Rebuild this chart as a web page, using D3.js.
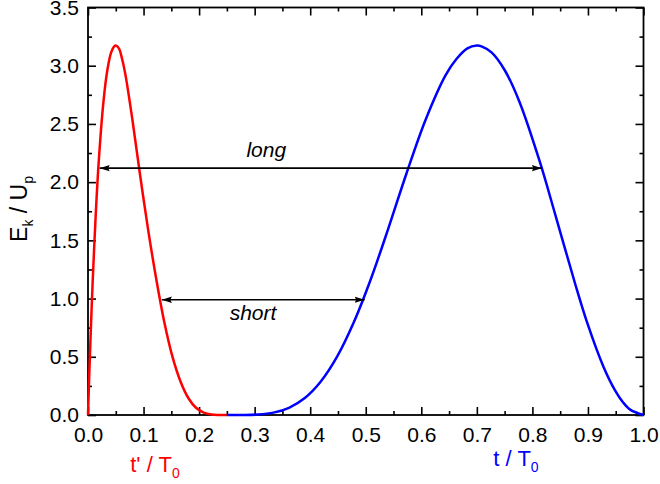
<!DOCTYPE html>
<html>
<head>
<meta charset="utf-8">
<script src="https://cdn.jsdelivr.net/npm/d3@7"></script>
<style>
  html, body { margin: 0; padding: 0; background: #fff; }
  svg { display: block; }
  text { font-family: "Liberation Sans", Arial, sans-serif; }
</style>
</head>
<body>
<svg id="chart" width="660" height="484"></svg>
<script>
// ---- data ----
// red: ionization time t'/T0 vs return energy Ek/Up
const redT = [0, 0.000278, 0.000694, 0.00139, 0.00278, 0.00556, 0.00833, 0.0139, 0.0194, 0.0278, 0.0347, 0.0417, 0.0472, 0.05, 0.0556, 0.0615, 0.0675, 0.080, 0.0935, 0.108, 0.123, 0.1375, 0.152, 0.1665, 0.1806, 0.1944, 0.2083, 0.2222, 0.2361, 0.25];
const redE = [0, 0.044, 0.108, 0.214, 0.417, 0.793, 1.136, 1.719, 2.182, 2.689, 2.959, 3.114, 3.166, 3.173, 3.149, 3.056, 2.919, 2.534, 2.070, 1.599, 1.164, 0.794, 0.501, 0.288, 0.146, 0.062, 0.0205, 0.0042, 0.0003, 0];
// blue: return time t/T0 vs return energy Ek/Up
const blueT = [0.25, 0.2778, 0.3056, 0.3338, 0.3618, 0.3903, 0.4191, 0.4484, 0.4783, 0.5089, 0.5404, 0.573, 0.6076, 0.6438, 0.6629, 0.683, 0.6998, 0.7083, 0.7264, 0.7505, 0.7768, 0.8129, 0.8413, 0.8764, 0.8986, 0.9277, 0.9485, 0.9633, 0.9767, 1.0];
const blueE = [0, 0.0003, 0.0042, 0.0205, 0.062, 0.146, 0.288, 0.501, 0.794, 1.164, 1.599, 2.070, 2.534, 2.919, 3.056, 3.149, 3.173, 3.166, 3.114, 2.959, 2.689, 2.182, 1.719, 1.136, 0.793, 0.417, 0.214, 0.108, 0.044, 0];

// annotation arrows
const arrowLabels = ["long", "short"];
const arrowE = [2.12, 0.99];
const arrowFrom = [0.021, 0.133];
const arrowTo = [0.817, 0.498];
const arrowLabelX = [0.321, 0.297];

// ticks
const xMajor = [0, 0.1, 0.2, 0.3, 0.4, 0.5, 0.6, 0.7, 0.8, 0.9, 1.0];
const xMinor = [0.05, 0.15, 0.25, 0.35, 0.45, 0.55, 0.65, 0.75, 0.85, 0.95];
const yMajor = [0, 0.5, 1.0, 1.5, 2.0, 2.5, 3.0, 3.5];
const yMinor = [0.25, 0.75, 1.25, 1.75, 2.25, 2.75, 3.25];

// ---- layout ----
const L = 88, R = 643.5, T = 7.5, B = 415;
const svg = d3.select("#chart");
const x = d3.scaleLinear().domain([0, 1]).range([L, R]);
const y = d3.scaleLinear().domain([0, 3.5]).range([B, T]);

const fmt = d3.format(".1f");
const tickFont = "21px";

function styleAxis(g) {
  g.select(".domain").remove();
  g.selectAll(".tick line").attr("stroke", "#000").attr("stroke-width", 1.6);
  g.selectAll(".tick text").attr("fill", "#000").style("font-size", tickFont)
    .style("font-family", '"Liberation Sans", Arial, sans-serif');
}

// bottom
svg.append("g").attr("transform", `translate(0,${B})`)
  .call(d3.axisBottom(x).tickValues(xMajor).tickFormat(fmt).tickSize(-8).tickPadding(12)).call(styleAxis);
svg.append("g").attr("transform", `translate(0,${B})`)
  .call(d3.axisBottom(x).tickValues(xMinor).tickFormat("").tickSize(-4)).call(styleAxis);
// top
svg.append("g").attr("transform", `translate(0,${T})`)
  .call(d3.axisTop(x).tickValues(xMajor).tickFormat("").tickSize(-8)).call(styleAxis);
svg.append("g").attr("transform", `translate(0,${T})`)
  .call(d3.axisTop(x).tickValues(xMinor).tickFormat("").tickSize(-4)).call(styleAxis);
// left
svg.append("g").attr("transform", `translate(${L},0)`)
  .call(d3.axisLeft(y).tickValues(yMajor).tickFormat(fmt).tickSize(-8).tickPadding(9)).call(styleAxis);
svg.append("g").attr("transform", `translate(${L},0)`)
  .call(d3.axisLeft(y).tickValues(yMinor).tickFormat("").tickSize(-4)).call(styleAxis);
// right
svg.append("g").attr("transform", `translate(${R},0)`)
  .call(d3.axisRight(y).tickValues(yMajor).tickFormat("").tickSize(-8)).call(styleAxis);
svg.append("g").attr("transform", `translate(${R},0)`)
  .call(d3.axisRight(y).tickValues(yMinor).tickFormat("").tickSize(-4)).call(styleAxis);

// frame
svg.append("rect").attr("x", L).attr("y", T).attr("width", R - L).attr("height", B - T)
  .attr("fill", "none").attr("stroke", "#000").attr("stroke-width", 1.8);

// curves
const line = d3.line().x(d => x(d[0])).y(d => y(d[1])).curve(d3.curveCatmullRom.alpha(0.5));
const redData = redT.map((t, i) => [t, redE[i]]);
const blueData = blueT.map((t, i) => [t, blueE[i]]);
svg.append("path").attr("d", line(redData)).attr("fill", "none").attr("stroke", "#ff0000").attr("stroke-width", 2.5);
svg.append("path").attr("d", line(blueData)).attr("fill", "none").attr("stroke", "#0000ff").attr("stroke-width", 2.5);

// arrows
const defs = svg.append("defs");
defs.append("marker").attr("id", "ah").attr("markerUnits", "userSpaceOnUse")
  .attr("markerWidth", 11).attr("markerHeight", 8).attr("refX", 10).attr("refY", 4)
  .attr("orient", "auto-start-reverse")
  .append("path").attr("d", "M0,0.8 L10,4 L0,7.2 L1.5,4 Z").attr("fill", "#000");

arrowLabels.forEach((lab, i) => {
  svg.append("line")
    .attr("x1", x(arrowFrom[i])).attr("x2", x(arrowTo[i]))
    .attr("y1", y(arrowE[i])).attr("y2", y(arrowE[i]))
    .attr("stroke", "#000").attr("stroke-width", 1.6)
    .attr("marker-start", "url(#ah)").attr("marker-end", "url(#ah)");
});
svg.append("text").attr("x", x(arrowLabelX[0])).attr("y", y(arrowE[0]) - 11)
  .attr("text-anchor", "middle").style("font-size", "21px").style("font-style", "italic").text(arrowLabels[0]);
svg.append("text").attr("x", x(arrowLabelX[1])).attr("y", y(arrowE[1]) + 20)
  .attr("text-anchor", "middle").style("font-size", "21px").style("font-style", "italic").text(arrowLabels[1]);

// axis titles
const yt = svg.append("text").attr("transform", "translate(27,209) rotate(-90)")
  .attr("text-anchor", "middle").style("font-size", "23px").attr("fill", "#000");
yt.append("tspan").text("E");
yt.append("tspan").attr("dy", 6).style("font-size", "14px").text("k");
yt.append("tspan").attr("dy", -6).text(" / U");
yt.append("tspan").attr("dy", 6).style("font-size", "14px").text("p");

const xt1 = svg.append("text").attr("x", 155).attr("y", 472)
  .attr("text-anchor", "middle").style("font-size", "22px").attr("fill", "#ff0000");
xt1.append("tspan").text("t' / T");
xt1.append("tspan").attr("dy", 6).style("font-size", "14px").text("0");

const xt2 = svg.append("text").attr("x", 516).attr("y", 466)
  .attr("text-anchor", "middle").style("font-size", "22px").attr("fill", "#0000ff");
xt2.append("tspan").text("t / T");
xt2.append("tspan").attr("dy", 6).style("font-size", "14px").text("0");
</script>
</body>
</html>
